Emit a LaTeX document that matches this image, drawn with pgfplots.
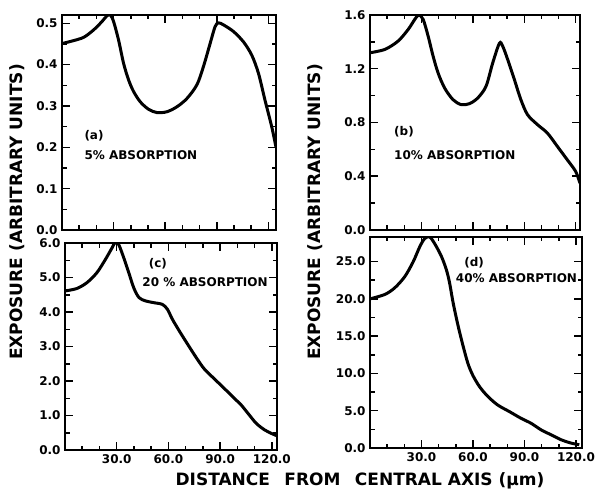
\documentclass[border=0pt]{standalone}
\usepackage{fontspec}
\setmainfont{DejaVu Sans}
\usepackage{pgfplots}
\pgfplotsset{compat=1.18}

\pgfplotsset{
  panel/.style={
    scale only axis, anchor=south west, xmin=0, ymin=0,
    line width=2.2pt,
    tick style={black, line width=1.5pt},
    major tick length=8pt, minor tick length=4.5pt,
    tick align=inside,
    scaled ticks=false,
    tick label style={font=\bfseries\fontsize{12}{12}\selectfont},
    yticklabel style={/pgf/number format/.cd, fixed, fixed zerofill, precision=1, assume math mode=true},
    xticklabel style={/pgf/number format/.cd, fixed, fixed zerofill, precision=1, assume math mode=true},
    xtick={30,60,90,120}, minor xtick={10,20,40,50,70,80,100,110}, minor y tick num=1,
  },
}
\tikzset{
  curve/.style={black, line width=3pt, smooth},
  ptext/.style={font=\bfseries\fontsize{12}{13}\selectfont, anchor=west, inner sep=0pt},
}

\begin{document}
\begin{tikzpicture}
% (a)
\begin{axis}[panel, at={(62pt,265pt)}, width=214pt, height=215pt,
  xmax=124.4, ymax=0.52, ytick={0,0.1,0.2,0.3,0.4,0.5}, xticklabels={}]
\addplot[curve] coordinates {
(0,0.451) (5.8,0.457) (12.6,0.466) (18.4,0.484) (23.2,0.504) (26.1,0.518) (28.1,0.52)
(30,0.504) (32.9,0.459) (35.8,0.403) (38.7,0.363) (41.6,0.335) (45.5,0.310) (50.3,0.292)
(55.2,0.284) (61,0.286) (66.8,0.298) (72.6,0.318) (78.4,0.351) (82.2,0.395) (86.1,0.451)
(89,0.492) (91,0.501) (93.9,0.496) (99.7,0.480) (105.5,0.455) (110.3,0.423) (114.2,0.379)
(118,0.314) (121.9,0.25) (124.4,0.2)};
\node[ptext] at (rel axis cs:0.1,0.44) {(a)};
\node[ptext] at (rel axis cs:0.1,0.35) {5\% ABSORPTION};
\end{axis}
% (b)
\begin{axis}[panel, at={(370pt,265pt)}, width=210pt, height=215pt,
  xmax=122.5, ymax=1.6, ytick={0,0.4,0.8,1.2,1.6}, xticklabels={}]
\addplot[curve] coordinates {
(0,1.319) (8.7,1.344) (16.4,1.406) (22.3,1.493) (26.1,1.567) (28.4,1.6) (31,1.567)
(33.9,1.443) (36.8,1.294) (39.7,1.169) (43.5,1.057) (48.4,0.970) (53.2,0.933) (58,0.940)
(62.9,0.983) (67.7,1.070) (71.6,1.244) (75.5,1.390) (77.4,1.368) (80.3,1.269) (84.2,1.120)
(88,0.970) (91.9,0.858) (97.7,0.784) (103.5,0.721) (109.3,0.622) (115.1,0.522)
(120,0.435) (122.5,0.348)};
\node[ptext] at (rel axis cs:0.11,0.456) {(b)};
\node[ptext] at (rel axis cs:0.11,0.35) {10\% ABSORPTION};
\end{axis}
% (c)
\begin{axis}[panel, at={(65pt,45pt)}, width=212pt, height=207pt,
  xmax=123, ymax=6, ytick={0,1,2,3,4,5,6}]
\addplot[curve] coordinates {
(0,4.61) (6.8,4.68) (12.7,4.85) (18.5,5.14) (23.4,5.52) (27.3,5.86) (29.2,6.02)
(31.2,5.95) (34.1,5.57) (37,5.14) (39.9,4.70) (42.9,4.42) (46.8,4.32) (51.6,4.27)
(56.5,4.22) (59.4,4.08) (62.3,3.79) (66.2,3.46) (71.1,3.07) (76,2.69) (80.8,2.35)
(86.7,2.06) (92.5,1.78) (98.4,1.49) (102.3,1.30) (106.2,1.06) (111,0.77) (115.9,0.58)
(119.8,0.48) (123,0.41)};
\node[ptext] at (rel axis cs:0.39,0.9) {(c)};
\node[ptext] at (rel axis cs:0.36,0.81) {20 \% ABSORPTION};
\end{axis}
% (d)
\begin{axis}[panel, at={(370pt,47pt)}, width=212pt, height=211pt,
  xmax=123.5, ymax=28.3, ytick={0,5,10,15,20,25}]
\addplot[curve] coordinates {
(0,20.0) (8.7,20.6) (14.5,21.5) (20.3,23.0) (25.2,25.0) (29,27.0) (31.9,28.1)
(34.8,28.3) (37.7,27.4) (41.6,25.7) (44.5,23.9) (46.4,22.1) (48.4,19.5) (51.3,16.4)
(54.2,13.7) (57.1,11.3) (60,9.7) (63.9,8.2) (68.7,6.9) (74.5,5.75) (81.3,4.87)
(88,3.98) (93.8,3.32) (99.7,2.43) (105.5,1.77) (111.3,1.11) (117.1,0.66) (121.9,0.44)};
\node[ptext] at (rel axis cs:0.44,0.88) {(d)};
\node[ptext] at (rel axis cs:0.40,0.805) {40\% ABSORPTION};
\end{axis}
% axis titles
\node[rotate=90, font=\bfseries\fontsize{17}{17}\selectfont] at (17pt,283pt) {EXPOSURE (ARBITRARY UNITS)};
\node[rotate=90, font=\bfseries\fontsize{17}{17}\selectfont] at (315pt,283pt) {EXPOSURE (ARBITRARY UNITS)};
\node[font=\bfseries\fontsize{17}{17}\selectfont] at (360pt,14pt) {DISTANCE\hspace{0.5em} FROM\hspace{0.5em} CENTRAL AXIS (μm)};
\pgfresetboundingbox
\useasboundingbox (0,0) rectangle (601pt,495pt);
\end{tikzpicture}
\end{document}
